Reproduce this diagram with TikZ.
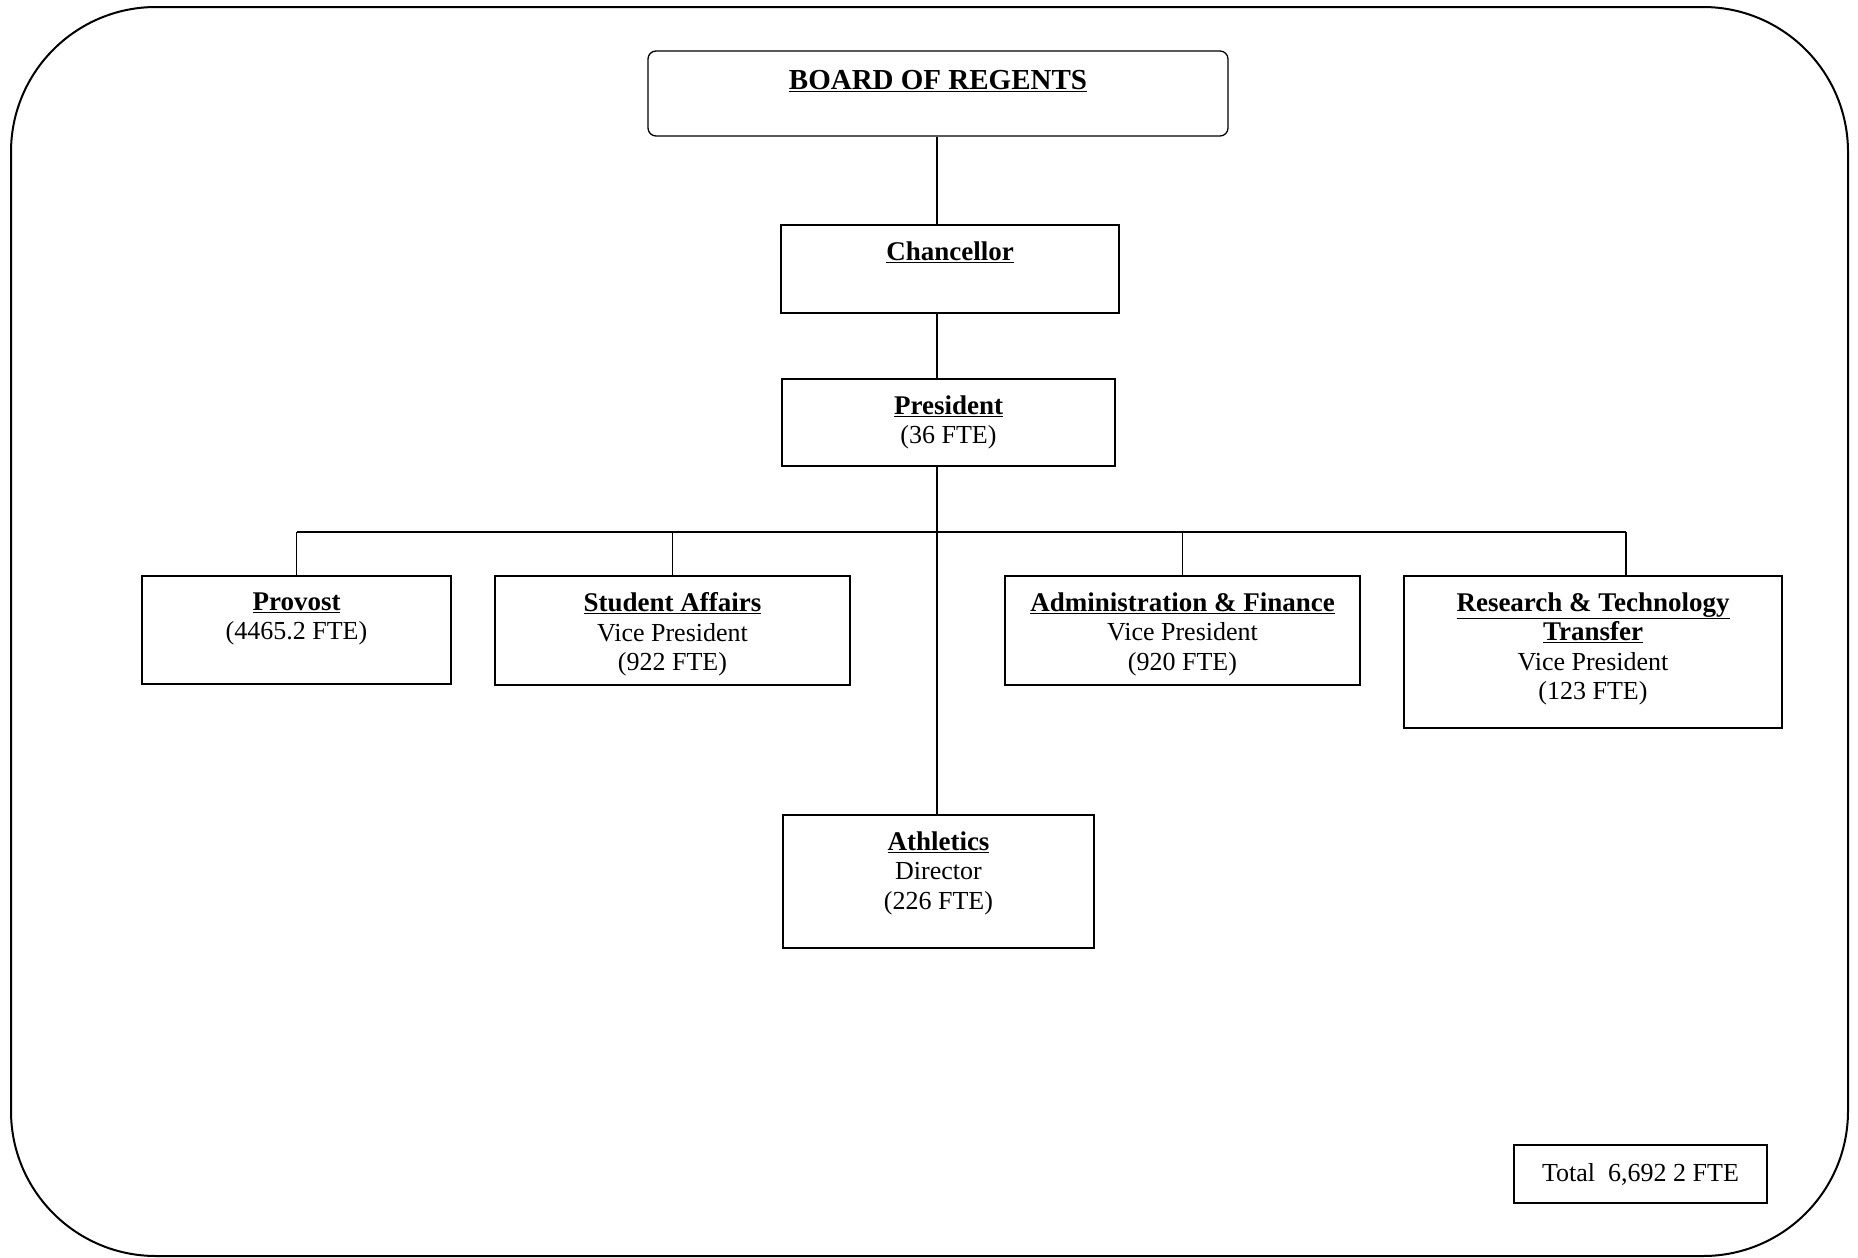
\documentclass[tikz,border=0pt]{standalone}
\usepackage{fontspec}
\setmainfont{Liberation Serif}
\begin{document}
\begin{tikzpicture}[x=1pt,y=-1pt,
  box/.style={draw, line width=1.3pt, rectangle, inner sep=0pt},
  conn/.style={line width=1.3pt},
  txt/.style={inner sep=0pt, align=center, font=\fontsize{26}{29.5}\selectfont},
  frame/.style={line width=2pt, rounded corners=145pt}
]
\newcommand{\ttl}[1]{{\fontsize{27}{29.5}\selectfont\bfseries\underline{#1}}}
\useasboundingbox (0,0) rectangle (1858,1258);
\fill[white] (0,0) rectangle (1858,1258);
\draw[frame] (11,7) rectangle (1848,1256);

% boxes (centre, size)
\node[box, rounded corners=8pt, minimum width=580pt, minimum height=85pt] (board) at (938,93.5) {};
\node[box, minimum width=338pt, minimum height=88pt] (chan) at (950,269) {};
\node[box, minimum width=333pt, minimum height=87pt] (pres) at (948.5,422.5) {};
\node[box, minimum width=309pt, minimum height=108pt] (prov) at (296.5,630) {};
\node[box, minimum width=355pt, minimum height=109pt] (stud) at (672.5,630.5) {};
\node[box, minimum width=355pt, minimum height=109pt] (admin) at (1182.5,630.5) {};
\node[box, minimum width=378pt, minimum height=152pt] (res) at (1593,652) {};
\node[box, minimum width=311pt, minimum height=133pt] (ath) at (938.5,881.5) {};
\node[box, minimum width=253pt, minimum height=58pt] (total) at (1640.5,1174) {};

% texts
\node[txt, anchor=north] (boardT) at ([yshift=-20pt]board.north) {{\fontsize{29}{32}\selectfont\bfseries\underline{BOARD OF REGENTS}}};
\node[txt, anchor=north] (chanT) at ([yshift=-17pt]chan.north) {\ttl{Chancellor}};
\node[txt, anchor=north] (presT) at ([yshift=-17pt]pres.north) {\ttl{President}\\(36 FTE)};
\node[txt, anchor=north] (provT) at ([yshift=-17pt]prov.north) {\ttl{Provost}\\(4465.2 FTE)};
\node[txt, anchor=north] (studT) at ([yshift=-17pt]stud.north) {\ttl{Student Affairs}\\Vice President\\(922 FTE)};
\node[txt, anchor=north] (adminT) at ([yshift=-17pt]admin.north) {\ttl{Administration \& Finance}\\Vice President\\(920 FTE)};
\node[txt, anchor=north] (resT) at ([yshift=-17pt]res.north) {\ttl{Research \& Technology}\\\ttl{Transfer}\\Vice President\\(123 FTE)};
\node[txt, anchor=north] (athT) at ([yshift=-17pt]ath.north) {\ttl{Athletics}\\Director\\(226 FTE)};
\node[txt] (totalT) at (total.center) {Total\ \ 6,692 2 FTE};

% connectors
\coordinate (spine) at (937,532);
\coordinate (busL) at (296.5,532);
\coordinate (busR) at (1626,532);
\draw[conn] ([xshift=-1pt]board.south) -- ([xshift=-1pt]board.south |- chan.north);
\draw[conn] (spine |- chan.south) -- (spine |- pres.north);
\draw[conn] (spine |- pres.south) -- (spine |- ath.north);
\draw[conn] (busL) -- (busR);
\draw[conn] (busL) -- (prov.north);
\draw[conn] (stud.north |- spine) -- (stud.north);
\draw[conn] (admin.north |- spine) -- (admin.north);
\draw[conn] (busR) -- (busR |- res.north);
\end{tikzpicture}
\end{document}
